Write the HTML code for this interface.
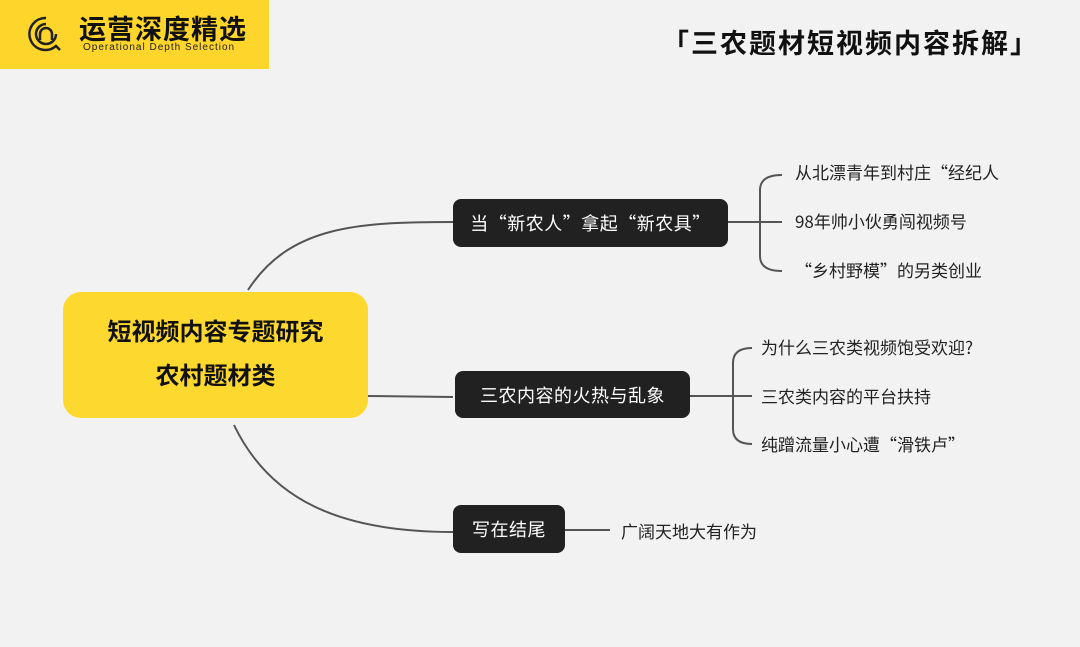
<!DOCTYPE html>
<html><head><meta charset="utf-8"><style>
body{margin:0;width:1080px;height:647px;background:#f2f2f2;position:relative;overflow:hidden;font-family:"Liberation Sans","Noto Sans CJK SC",sans-serif}
.a{position:absolute}
.dn{position:absolute;background:#212121;color:#fff;border-radius:8px;font-size:18px;display:flex;align-items:center;justify-content:center;font-family:"Noto Sans CJK SC",sans-serif;letter-spacing:0.5px}
.t{position:absolute;font-size:17px;color:#222;white-space:nowrap;font-family:"Noto Sans CJK SC",sans-serif;line-height:24px}
</style></head><body>
<div class="a" style="left:0;top:0;width:269px;height:69px;background:#fdd52b"></div>
<svg class="a" style="left:26px;top:14px" width="40" height="40" viewBox="0 0 40 40" fill="none" stroke="#222" stroke-width="2.5"><path d="M20 4a16 16 0 1 0 10 28l4 4M20 10a10 10 0 1 0 10 10"/><path d="M14 26v-6a6 6 0 0 1 12 0v6"/></svg>
<div class="a" style="left:79px;top:8px;font-size:27px;font-weight:bold;color:#111;letter-spacing:1px">运营深度精选</div>
<div class="a" style="left:83px;top:42px;font-size:10px;color:#222;letter-spacing:1px">Operational Depth Selection</div>
<div class="a" style="left:662px;top:24px;font-size:27px;font-weight:bold;color:#111;letter-spacing:2px;font-family:'Noto Sans CJK SC',sans-serif;line-height:36px">「三农题材短视频内容拆解」</div>
<svg class="a" style="left:0;top:0" width="1080" height="647" fill="none" stroke="#555" stroke-width="2">
<path d="M248 290 C290 225 360 222 453 222"/>
<path d="M368 396 L453 397"/>
<path d="M234 425 C270 500 340 532 453 532"/>
<path d="M728 222 H782 M760 222 V190 Q760 175 782 175 M760 222 V256 Q760 271 782 271"/>
<path d="M690 396 H752 M733 396 V363 Q733 348 752 348 M733 396 V429 Q733 444 752 444"/>
<path d="M565 530 H610"/>
</svg>
<div class="a" style="left:63px;top:292px;width:305px;height:126px;background:#fdd930;border-radius:18px;display:flex;flex-direction:column;align-items:center;justify-content:center;font-size:24px;font-weight:bold;color:#111;line-height:44px">
<div>短视频内容专题研究</div><div>农村题材类</div></div>
<div class="dn" style="left:453px;top:199px;width:275px;height:48px">当“新农人”拿起“新农具”</div>
<div class="dn" style="left:455px;top:371px;width:235px;height:47px">三农内容的火热与乱象</div>
<div class="dn" style="left:453px;top:505px;width:112px;height:48px">写在结尾</div>
<div class="t" style="left:795px;top:160px">从北漂青年到村庄“经纪人</div>
<div class="t" style="left:795px;top:209px">98年帅小伙勇闯视频号</div>
<div class="t" style="left:795px;top:258px">“乡村野模”的另类创业</div>
<div class="t" style="left:761px;top:335px">为什么三农类视频饱受欢迎?</div>
<div class="t" style="left:761px;top:384px">三农类内容的平台扶持</div>
<div class="t" style="left:761px;top:432px">纯蹭流量小心遭“滑铁卢”</div>
<div class="t" style="left:621px;top:519px">广阔天地大有作为</div>
</body></html>
